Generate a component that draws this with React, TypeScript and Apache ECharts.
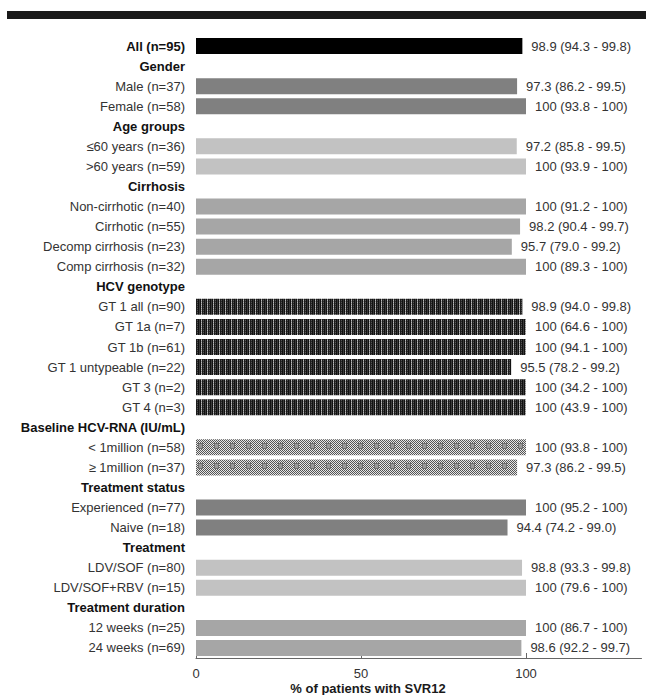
import React, { useEffect, useRef } from "react";
import * as echarts from "echarts";

// ---- data ----
const rowLabels: string[] = [
  "All (n=95)",
  "Gender",
  "Male (n=37)",
  "Female (n=58)",
  "Age groups",
  "≤60 years (n=36)",
  ">60 years (n=59)",
  "Cirrhosis",
  "Non-cirrhotic (n=40)",
  "Cirrhotic (n=55)",
  "Decomp cirrhosis (n=23)",
  "Comp cirrhosis (n=32)",
  "HCV genotype",
  "GT 1 all (n=90)",
  "GT 1a (n=7)",
  "GT 1b (n=61)",
  "GT 1 untypeable (n=22)",
  "GT 3 (n=2)",
  "GT 4 (n=3)",
  "Baseline HCV-RNA (IU/mL)",
  "< 1million (n=58)",
  "≥ 1million (n=37)",
  "Treatment status",
  "Experienced (n=77)",
  "Naive (n=18)",
  "Treatment",
  "LDV/SOF (n=80)",
  "LDV/SOF+RBV (n=15)",
  "Treatment duration",
  "12 weeks (n=25)",
  "24 weeks (n=69)",
];

const headerLabels: string[] = [
  "All (n=95)",
  "Gender",
  "Age groups",
  "Cirrhosis",
  "HCV genotype",
  "Baseline HCV-RNA (IU/mL)",
  "Treatment status",
  "Treatment",
  "Treatment duration",
];

// SVR12 % (null = group header row)
const svrValues: (number | null)[] = [
  98.9,
  null, 97.3, 100,
  null, 97.2, 100,
  null, 100, 98.2, 95.7, 100,
  null, 98.9, 100, 100, 95.5, 100, 100,
  null, 100, 97.3,
  null, 100, 94.4,
  null, 98.8, 100,
  null, 100, 98.6,
];

const ciLower: (number | null)[] = [
  94.3,
  null, 86.2, 93.8,
  null, 85.8, 93.9,
  null, 91.2, 90.4, 79.0, 89.3,
  null, 94.0, 64.6, 94.1, 78.2, 34.2, 43.9,
  null, 93.8, 86.2,
  null, 95.2, 74.2,
  null, 93.3, 79.6,
  null, 86.7, 92.2,
];

const ciUpper: (number | null)[] = [
  99.8,
  null, 99.5, 100,
  null, 99.5, 100,
  null, 100, 99.7, 99.2, 100,
  null, 99.8, 100, 100, 99.2, 100, 100,
  null, 100, 99.5,
  null, 100, 99.0,
  null, 99.8, 100,
  null, 100, 99.7,
];

// group of each row (for fill style)
const rowGroups: string[] = [
  "all",
  "gender", "gender", "gender",
  "age", "age", "age",
  "cirr", "cirr", "cirr", "cirr", "cirr",
  "gt", "gt", "gt", "gt", "gt", "gt", "gt",
  "rna", "rna", "rna",
  "status", "status", "status",
  "trt", "trt", "trt",
  "dur", "dur", "dur",
];

const xTicks: number[] = [0, 50, 100];
const xAxisTitle = "% of patients with SVR12";

function fmt(v: number): string {
  return v === 100 ? "100" : v.toFixed(1);
}

function makeGtPattern(): HTMLCanvasElement {
  const c = document.createElement("canvas");
  c.width = 6;
  c.height = 4;
  const ctx = c.getContext("2d")!;
  const cols = ["#111111", "#3a3a3a", "#111111", "#8a8a8a", "#1c1c1c", "#555555"];
  for (let x = 0; x < 6; x++) {
    for (let y = 0; y < 4; y++) {
      let col = cols[x];
      if (x === 3 && y % 2 === 0) col = "#bbbbbb";
      if (x === 5 && y % 2 === 1) col = "#2a2a2a";
      ctx.fillStyle = col;
      ctx.fillRect(x, y, 1, 1);
    }
  }
  return c;
}

function makeRnaPattern(): HTMLCanvasElement {
  const c = document.createElement("canvas");
  c.width = 16;
  c.height = 20;
  const ctx = c.getContext("2d")!;
  for (let x = 0; x < 16; x++) {
    for (let y = 0; y < 20; y++) {
      ctx.fillStyle = (x + y) % 2 === 0 ? "#555555" : "#e6e6e6";
      ctx.fillRect(x, y, 1, 1);
    }
  }
  ctx.fillStyle = "#6e6e6e";
  ctx.fillRect(6, 3, 5, 6);
  ctx.fillStyle = "#999999";
  ctx.fillRect(7, 4, 3, 4);
  return c;
}

export default function App() {
  const ref = useRef<HTMLDivElement>(null);

  useEffect(() => {
    document.body.style.margin = "0";
    if (!ref.current) return;
    const chart = echarts.init(ref.current, null, { renderer: "svg" });

    const gt = makeGtPattern();
    const rna = makeRnaPattern();
    const fills: Record<string, any> = {
      all: "#000000",
      gender: "#808080",
      age: "#c2c2c2",
      cirr: "#a6a6a6",
      gt: { image: gt, repeat: "repeat", imageWidth: gt.width, imageHeight: gt.height },
      rna: { image: rna, repeat: "repeat", imageWidth: rna.width, imageHeight: rna.height },
      status: "#808080",
      trt: "#c2c2c2",
      dur: "#a6a6a6",
    };

    const headerSet = new Set(headerLabels);

    const data = svrValues.map((v, i) =>
      v == null
        ? "-"
        : { value: v, itemStyle: { color: fills[rowGroups[i]] } }
    );

    const valueLabels = svrValues.map((v, i) =>
      v == null ? "" : `${fmt(v)} (${ciLower[i]!.toFixed(1)} - ${fmt(ciUpper[i]!)})`
    );

    const font = "'Liberation Sans', Arial, sans-serif";

    chart.setOption({
      animation: false,
      backgroundColor: "#ffffff",
      grid: { left: 196, top: 36, width: 445.5, height: 622, containLabel: false },
      graphic: [
        {
          type: "rect",
          shape: { x: 7, y: 11, width: 639, height: 8 },
          style: { fill: "#1a1a1a" },
        },
        {
          type: "text",
          x: 368,
          y: 682,
          style: {
            text: xAxisTitle,
            fill: "#1a1a1a",
            fontSize: 13,
            fontWeight: "bold",
            fontFamily: font,
            align: "center",
            verticalAlign: "top",
          },
        },
      ],
      xAxis: {
        type: "value",
        min: 0,
        max: 135,
        interval: 50,
        splitLine: { show: false },
        axisLine: { show: true, lineStyle: { color: "#666666", width: 1 } },
        axisTick: {
          show: true,
          inside: true,
          length: 5,
          customValues: xTicks,
          lineStyle: { color: "#666666" },
        },
        axisLabel: {
          customValues: xTicks,
          color: "#333333",
          fontSize: 13,
          fontFamily: font,
          margin: 9,
        },
      },
      yAxis: {
        type: "category",
        inverse: true,
        data: rowLabels,
        axisLine: { show: false },
        axisTick: { show: false },
        axisLabel: {
          margin: 11,
          interval: 0,
          formatter: (val: string) => (headerSet.has(val) ? `{h|${val}}` : `{n|${val}}`),
          rich: {
            h: { fontSize: 13, fontWeight: "bold", color: "#111111", fontFamily: font },
            n: { fontSize: 13, color: "#333333", fontFamily: font },
          },
        },
      },
      series: [
        {
          type: "bar",
          data,
          barWidth: 16,
          label: {
            show: true,
            position: "right",
            distance: 9,
            color: "#333333",
            fontSize: 13,
            fontFamily: font,
            formatter: (p: any) => valueLabels[p.dataIndex],
          },
        },
      ],
    });

    return () => chart.dispose();
  }, []);

  return <div ref={ref} style={{ width: 646, height: 695 }} />;
}
